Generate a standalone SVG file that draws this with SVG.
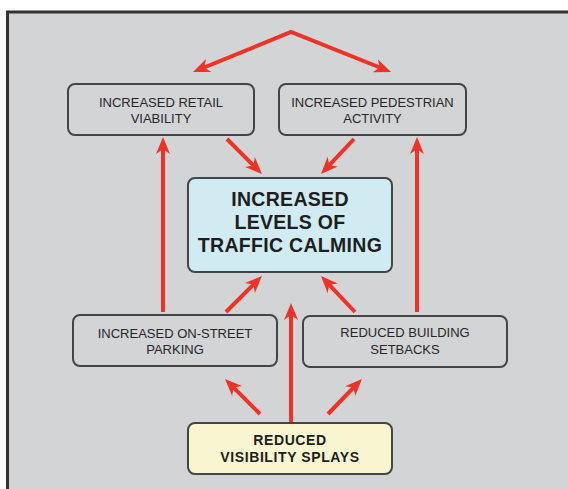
<svg xmlns="http://www.w3.org/2000/svg" width="568" height="489" viewBox="0 0 568 489">
  <style>
    .box { fill: #d3d4d6; stroke: #454545; stroke-width: 2; }
    .core { fill: #d0ebf1; stroke: #454545; stroke-width: 2; }
    .root { fill: #f8f6d0; stroke: #454545; stroke-width: 2; }
    .lbl { font-family: "Liberation Sans", Arial, sans-serif; font-size: 13px; fill: #262626; text-anchor: middle; }
    .big { font-family: "Liberation Sans", Arial, sans-serif; font-size: 19.5px; font-weight: bold; fill: #1e1e1e; text-anchor: middle; letter-spacing: 0.3px; }
    .mid { font-family: "Liberation Sans", Arial, sans-serif; font-size: 14px; font-weight: bold; fill: #1e1e1e; text-anchor: middle; letter-spacing: 0.6px; }
    .arrow { fill: none; stroke: #ee3226; stroke-width: 4; marker-end: url(#head); }
  </style>
  <defs>
    <marker id="head" markerUnits="userSpaceOnUse" refX="0" refY="0" markerWidth="40" markerHeight="40" orient="auto-start-reverse" overflow="visible">
      <path d="M8,0 L-9,-7 L-4,0 L-9,7 Z" fill="#ee3226"/>
    </marker>
  </defs>

  <!-- page and panel -->
  <rect x="0" y="0" width="568" height="489" fill="#ffffff"/>
  <rect x="7.5" y="12" width="600" height="520" fill="#d3d4d6" stroke="#333333" stroke-width="3"/>

  <!-- connectors -->
  <g id="connectors">
    <path class="arrow" d="M200.4,69 L291,32 L383.6,69" marker-start="url(#head)" stroke-linejoin="miter"/>
    <path class="arrow" d="M163,312 L163,145"/>
    <path class="arrow" d="M417,312 L417,145"/>
    <path class="arrow" d="M227,139 L256.3,168.3"/>
    <path class="arrow" d="M354,139 L326.5,168.2"/>
    <path class="arrow" d="M226,312 L256.3,281.7"/>
    <path class="arrow" d="M355,312 L326.5,281.8"/>
    <path class="arrow" d="M291,422 L291,311"/>
    <path class="arrow" d="M260,414 L230.7,384.7"/>
    <path class="arrow" d="M328,414 L356.4,384.7"/>
  </g>

  <g id="retail">
    <rect class="box" x="68" y="84" width="186" height="51" rx="7"/>
    <text class="lbl" x="161" y="107">INCREASED RETAIL</text>
    <text class="lbl" x="161" y="123">VIABILITY</text>
  </g>

  <g id="pedestrian">
    <rect class="box" x="279" y="84" width="187" height="51" rx="7"/>
    <text class="lbl" x="372.5" y="107">INCREASED PEDESTRIAN</text>
    <text class="lbl" x="372.5" y="123">ACTIVITY</text>
  </g>

  <g id="calming">
    <rect class="core" x="188" y="178" width="204" height="94" rx="7"/>
    <text class="big" x="290" y="206">INCREASED</text>
    <text class="big" x="290" y="229">LEVELS OF</text>
    <text class="big" x="290" y="252">TRAFFIC CALMING</text>
  </g>

  <g id="parking">
    <rect class="box" x="73" y="315" width="204" height="51" rx="7"/>
    <text class="lbl" x="175" y="338">INCREASED ON-STREET</text>
    <text class="lbl" x="175" y="354">PARKING</text>
  </g>

  <g id="setbacks">
    <rect class="box" x="303" y="316" width="204" height="51" rx="7"/>
    <text class="lbl" x="405" y="337">REDUCED BUILDING</text>
    <text class="lbl" x="405" y="354">SETBACKS</text>
  </g>

  <g id="splays">
    <rect class="root" x="188" y="423" width="204" height="51" rx="7"/>
    <text class="mid" x="290" y="445">REDUCED</text>
    <text class="mid" x="290" y="462">VISIBILITY SPLAYS</text>
  </g>
</svg>
